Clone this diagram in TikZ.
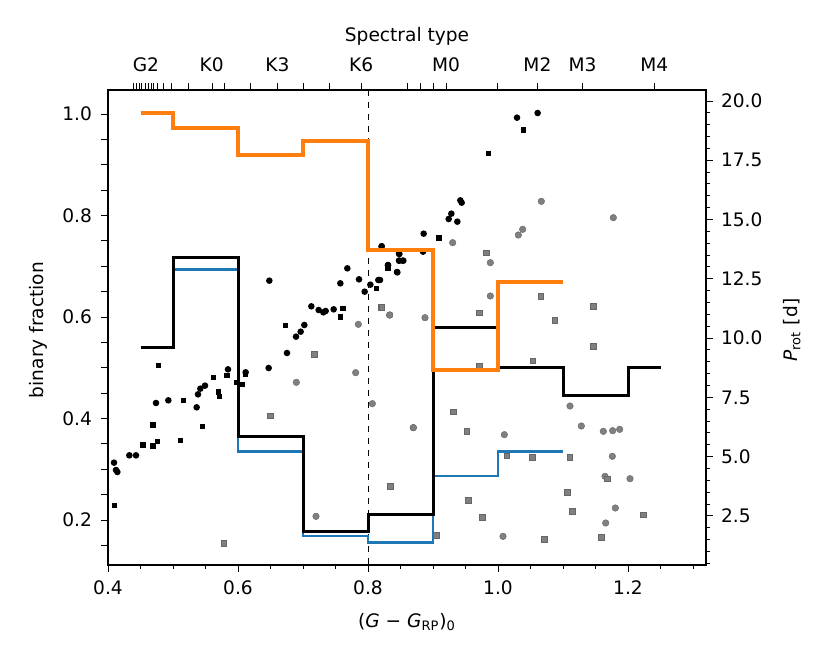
\documentclass[tikz,border=0pt]{standalone}
\usepackage{fontspec}
\setmainfont{DejaVu Sans}
\definecolor{mblue}{HTML}{1F77B4}
\definecolor{morange}{HTML}{FF7F0E}
\definecolor{mgrey}{HTML}{808080}
\begin{document}
\begin{tikzpicture}[x=0.5pt,y=-0.5pt,font=\fontsize{9.3}{11}\selectfont,
  gc/.style={fill=mgrey,draw=black!60,line width=0.2pt},
  tk/.style={line width=0.5pt}]
\useasboundingbox (0,0) rectangle (830,664);
% dashed line
\draw[dashed,line width=0.4pt] (368,90) -- (368,565);
% points
\foreach \x/\y in {42/668,48/690,52/696,88/646,108/646,168/489,205/481,290/502,294/463,301/446,315/437,384/388,437/397,506/384,508/122,561/339,588/290,602/275,613/255,634/199,656/210,670/217,677/213,701/208,721/130,742/85,777/118,794/155,811/134,835/120,845/19,864/76,891/96,897/41,898/62,908/62}
  \fill ({100+\x/3},{240+\y/3}) circle (3.3);
\foreach \x/\y in {44/797,129/615,159/618,159/555,172/604,175/376,241/602,251/481,308/560,341/412,356/456,359/470,381/407,411/427,428/434,437/402,556/256,721/231,729/205,829/145,864/84}
  \fill ({100+\x/3-2.7},{240+\y/3-2.7}) rectangle +(5.4,5.4);
\foreach \x/\y in {648/829,589/427,767/398,775/253,817/491,869/225,940/563}
  \filldraw[gc] ({100+\x/3},{240+\y/3}) circle (3.3);
\foreach \x/\y in {371/909,510/527,642/343,842/202,869/738}
  \filldraw[gc] ({100+\x/3-2.7},{240+\y/3-2.7}) rectangle +(5.4,5.4);
\foreach \x/\y in {411/53,473/39,241/301,245/308,214/341,206/357,232/365,131/401,5/439,129/455,58/462,57/482,70/482,24/495,52/517,0/540}
  \fill ({380+\x/3},{100+\y/3}) circle (3.3);
\foreach \x/\y in {430/90,326/161,177/414,24/505}
  \fill ({380+\x/3-2.7},{100+\y/3-2.7}) rectangle +(5.4,5.4);
\foreach \x/\y in {484/304,700/353,428/388,415/405,218/428,331/488,331/588,29/645,135/653,100/983,570/918,604/978,670/994,698/992,719/988,373/1004,697/1069,675/1129,750/1136,706/1224,677/1269,369/1309}
  \filldraw[gc] ({380+\x/3},{100+\y/3}) circle (3.3);
\foreach \x/\y in {318/458,482/589,639/618,297/638,524/660,639/738,458/782,297/797,219/935,260/993,380/1067,456/1071,569/1071,682/1136,30/1158,562/1177,265/1200,576/1233,306/1252,790/1244,168/1305,492/1317,663/1312,5/622}
  \filldraw[gc] ({380+\x/3-2.7},{100+\y/3-2.7}) rectangle +(5.4,5.4);
% steps
\draw[mblue,line width=1.4pt] (173,269.3) -- (238,269.3) -- (238,451.7) -- (303,451.7) -- (303,536) -- (368,536) -- (368,542.7) -- (433,542.7) -- (433,476) -- (498,476) -- (498,451.7) -- (563,451.7);
\draw[black,line width=1.5pt] (140.5,347.3) -- (173,347.3) -- (173,257.3) -- (238,257.3) -- (238,436.7) -- (303,436.7) -- (303,531) -- (368,531) -- (368,514.3) -- (433,514.3) -- (433,327.3) -- (498,327.3) -- (498,367.3) -- (563,367.3) -- (563,395) -- (628,395) -- (628,367.3) -- (660.5,367.3);
\draw[morange,line width=2pt] (140.5,113) -- (173,113) -- (173,128) -- (238,128) -- (238,155) -- (303,155) -- (303,141) -- (368,141) -- (368,250) -- (433,250) -- (433,370) -- (498,370) -- (498,282.3) -- (563,282.3);
% frame
\draw[line width=0.6pt] (108,90) rectangle (706,565);
% bottom ticks
\foreach \i in {0,...,18} {\pgfmathsetmacro\px{108+\i*32.5}\draw[tk] (\px,565) -- (\px,569);}
\foreach \v/\t in {0/0.4,1/0.6,2/0.8,3/1.0,4/1.2} {\pgfmathsetmacro\px{108+\v*130}\draw[tk] (\px,565) -- (\px,572); \node[anchor=north] at (\px,574) {\t};}
% left ticks
\foreach \i in {0,...,17} {\pgfmathsetmacro\py{545.4-\i*25.375}\draw[tk] (108,\py) -- (101,\py);}
\foreach \v/\t in {0/0.2,1/0.4,2/0.6,3/0.8,4/1.0} {\pgfmathsetmacro\py{520-\v*101.5}\node[anchor=east] at (99,\py) {\t};}
% right ticks
\foreach \i in {1,...,40} {\pgfmathsetmacro\py{575.2-\i*0.5*23.71}\draw[tk] (706,\py) -- (710,\py);}
\foreach \v/\t in {1/2.5,2/5.0,3/7.5,4/10.0,5/12.5,6/15.0,7/17.5,8/20.0} {\pgfmathsetmacro\py{575.2-\v*2.5*23.71}\draw[tk] (706,\py) -- (713,\py); \node[anchor=west] at (714,\py) {\t};}
% top ticks
\foreach \px in {133.1,136.3,139.5,141.9,145.1,148.3,151.5,153.9,157.8,163.8,171.8,188.9,212.5,224.8,250.7,277.5,303,329.3,361.2,407,420.2,433,446.1,497,537.4,582.5,654.3} \draw[tk] (\px,90) -- (\px,83);
\foreach \px/\t in {145.9/G2,211.7/K0,277.5/K3,361.2/K6,446.1/M0,537.4/M2,582.5/M3,654.3/M4} \node[anchor=south] at (\px,79) {\t};
% labels
\node (tt) at (407,36) {Spectral type};
\node[rotate=90] (yl) at (38,330) {binary fraction};
\node[rotate=90] (yr) at (792,330) {\textit{P}\textsubscript{rot} [d]};
\node (xl) at (407,622) {(\textit{G} − \textit{G}\textsubscript{RP})\textsubscript{0}};
\end{tikzpicture}
\end{document}
